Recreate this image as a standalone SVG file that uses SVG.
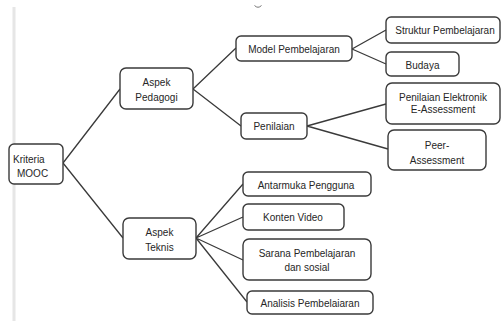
<svg xmlns="http://www.w3.org/2000/svg" width="503" height="321" viewBox="0 0 503 321">
<style>
.box{fill:#fff;stroke:#3a3a3a;stroke-width:1.4}
.t{font-family:"Liberation Sans",Arial,sans-serif;font-size:10px;fill:#262626;text-anchor:middle}
.c{stroke:#3a3a3a;stroke-width:1.3;fill:none}
</style>
<rect width="503" height="321" fill="#fff"/>
<rect x="12.5" y="7" width="3" height="314" fill="#e6e6e6"/>
<path d="M254.5 5.5 Q258 9 261.5 5.5" fill="none" stroke="#777" stroke-width="1"/>
<g id="connectors">
<path class="c" d="M63 163 L120 89 M63 163 L123 238"/>
<path class="c" d="M193 89 L236 48 M193 89 L241 126"/>
<path class="c" d="M352 49 L386 30 M352 49 L386 64"/>
<path class="c" d="M307 126 L386 104 M307 126 L388 149"/>
<path class="c" d="M196 238 L243 184 M196 238 L243 217 M196 238 L243 260 M196 238 L247 302"/>
</g>
<g id="kriteria"><rect class="box" x="9" y="144" width="54" height="40" rx="5"/><text class="t" style="text-anchor:start" x="13" y="163">Kriteria</text><text class="t" style="text-anchor:start" x="17" y="177">MOOC</text></g>
<g id="pedagogi"><rect class="box" x="120" y="68" width="73" height="41" rx="6"/><text class="t" x="156.5" y="86">Aspek</text><text class="t" x="156.5" y="101">Pedagogi</text></g>
<g id="teknis"><rect class="box" x="123" y="218" width="73" height="41" rx="6"/><text class="t" x="159.5" y="236">Aspek</text><text class="t" x="159.5" y="251">Teknis</text></g>
<g id="model"><rect class="box" x="236" y="36" width="116" height="25" rx="5"/><text class="t" x="294" y="53">Model Pembelajaran</text></g>
<g id="penilaian"><rect class="box" x="241" y="113" width="66" height="26" rx="5"/><text class="t" x="274" y="130">Penilaian</text></g>
<g id="struktur"><rect class="box" x="386" y="17" width="114" height="26" rx="5"/><text class="t" x="445" y="34">Struktur Pembelajaran</text></g>
<g id="budaya"><rect class="box" x="386" y="52" width="73" height="24" rx="5"/><text class="t" x="422.5" y="69">Budaya</text></g>
<g id="elektronik"><rect class="box" x="386" y="83" width="114" height="41" rx="6"/><text class="t" x="443" y="101">Penilaian Elektronik</text><text class="t" x="443" y="113">E-Assessment</text></g>
<g id="peer"><rect class="box" x="388" y="130" width="98" height="40" rx="6"/><text class="t" x="437" y="149">Peer-</text><text class="t" x="437" y="164">Assessment</text></g>
<g id="antarmuka"><rect class="box" x="243" y="172" width="128" height="24" rx="5"/><text class="t" x="306" y="189">Antarmuka Pengguna</text></g>
<g id="konten"><rect class="box" x="243" y="204" width="101" height="26" rx="5"/><text class="t" x="293" y="221">Konten Video</text></g>
<g id="sarana"><rect class="box" x="243" y="239" width="128" height="41" rx="6"/><text class="t" x="307" y="257">Sarana Pembelajaran</text><text class="t" x="307" y="271">dan sosial</text></g>
<g id="analisis"><rect class="box" x="247" y="291" width="126" height="23" rx="5"/><text class="t" x="310" y="307">Analisis Pembelaiaran</text></g>
</svg>
